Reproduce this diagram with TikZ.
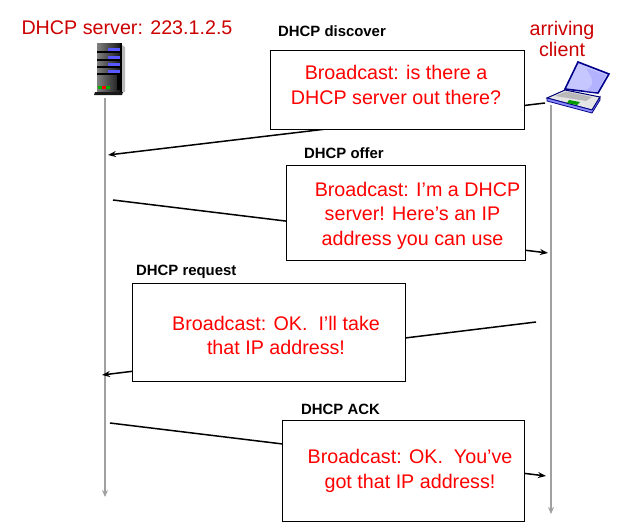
\documentclass[tikz,border=0pt]{standalone}
\usepackage{fontspec}
\setmainfont{Liberation Sans}
\definecolor{msgred}{RGB}{255,0,0}
\definecolor{darkred}{RGB}{204,0,0}
\definecolor{lifeline}{RGB}{160,160,160}
\usetikzlibrary{arrows.meta,positioning}
\tikzset{
  lifeln/.style={draw=lifeline,line width=1.1pt,-{Stealth[length=7pt,width=6pt]}},
  msgline/.style={draw=black,line width=1.5pt,-{Stealth[length=8pt,width=6pt]}},
  msgbox/.style={draw=black,line width=1pt,fill=white,anchor=north west,inner sep=0pt},
  msgtext/.style={text=msgred,font=\fontsize{19.7}{24.5}\selectfont,align=center,inner sep=0pt},
  title/.style={font=\fontsize{14.9}{16}\selectfont\bfseries,anchor=west,text=black,inner sep=0pt},
  hosttext/.style={text=darkred,font=\fontsize{19.7}{20.5}\selectfont,align=center,inner sep=0pt}
}
\begin{document}
\begin{tikzpicture}[x=1pt,y=-1pt]
\useasboundingbox (0,0) rectangle (619,528);
% end points
\coordinate (s0) at (105,98);
\coordinate (s1) at (105,497);
\coordinate (c0) at (551,105);
\coordinate (c1) at (551,514);
\coordinate (d0) at (545,103);
\coordinate (d1) at (108,155);
\coordinate (o0) at (113,200);
\coordinate (o1) at (548,253);
\coordinate (r0) at (536,322);
\coordinate (r1) at (102,375);
\coordinate (a0) at (110,423);
\coordinate (a1) at (546,476);
% lifelines
\draw[lifeln] (s0) -- (s1);
\draw[lifeln] (c0) -- (c1);
% messages
\draw[msgline] (d0) -- (d1);
\draw[msgline] (o0) -- (o1);
\draw[msgline] (r0) -- (r1);
\draw[msgline] (a0) -- (a1);
% boxes
\node[msgbox,minimum width=253.5pt,minimum height=79pt] (bd) at (270,50) {};
\node[msgbox,minimum width=238.5pt,minimum height=95pt] (bo) at (286,165) {};
\node[msgbox,minimum width=272.5pt,minimum height=98pt] (br) at (132,283) {};
\node[msgbox,minimum width=241.5pt,minimum height=101pt] (ba) at (282,420) {};
% box texts
\node[msgtext] (td) at (396,85) {Broadcast: is there a\\DHCP server out there?};
\node[msgtext] (to) at (412.5,215.5) {\hspace*{10pt}Broadcast: I’m a DHCP\\server! Here’s an IP\\address you can use};
\node[msgtext] (tr) at (276,335.5) {Broadcast: OK.\ \ I’ll take\\that IP address!};
\node[msgtext] (ta) at (410,471) {Broadcast: OK.\ \ You’ve\\got that IP address!};
% titles
\node[title] (hd) at (278,31) {DHCP discover};
\node[title] (ho) at (304,153) {DHCP offer};
\node[title] (hr) at (136,271.5) {DHCP request};
\node[title] (ha) at (301,409) {DHCP ACK};
% hosts
\node[hosttext] (srv) at (127,28) {DHCP server: 223.1.2.5};
\node[hosttext] (cli) at (562,39) {arriving\\client};
% server icon
\fill[gray!55] (119,43) -- (125,47) -- (125,92) -- (119,93) -- cycle;
\shade[left color=black!50,right color=black!90] (97,43) rectangle (120,92);
\fill[black] (120,43) rectangle (122,92);
\foreach \y in {48,56,63,70}{
  \draw[black,line width=1.2pt] (97,\y+4) -- (120,\y+4);
  \fill[blue!65!white] (108,\y) rectangle (120,\y+3);
}
\fill[black] (116.5,73) rectangle (119.5,90);
\fill[green!70!black] (98,85.5) rectangle (102,88.5);
\fill[red] (102,85.5) rectangle (106,88.5);
\fill[green!70!black] (106,85.5) rectangle (110,88.5);
\fill[black!90] (95,92) -- (123,92) -- (122,95) -- (94,95) -- cycle;
% laptop icon
\draw[fill=blue!22!white,draw=blue!55!black,line width=1.6pt] (578,62) -- (609,74) -- (598,93) -- (565,89) -- cycle;
\fill[white!70!blue] (586,68) .. controls (592,78) and (597,84) .. (585,91) -- (597,92) -- (606,75) -- cycle;
\draw[fill=gray!20,draw=blue!45!black,line width=1pt] (547,98) -- (565,90) -- (600,97) -- (592,110) -- cycle;
\draw[fill=blue!45,draw=blue!50!black,line width=.8pt] (547,98) -- (547,101) -- (592,113) -- (600,100) -- (600,97) -- (592,110) -- cycle;
\fill[gray!55] (555,96) -- (566,91.5) -- (592,97) -- (586,101) -- cycle;
\fill[green!60!black] (569,100) -- (580,102) -- (577,105) -- (567,103) -- cycle;
\end{tikzpicture}
\end{document}
